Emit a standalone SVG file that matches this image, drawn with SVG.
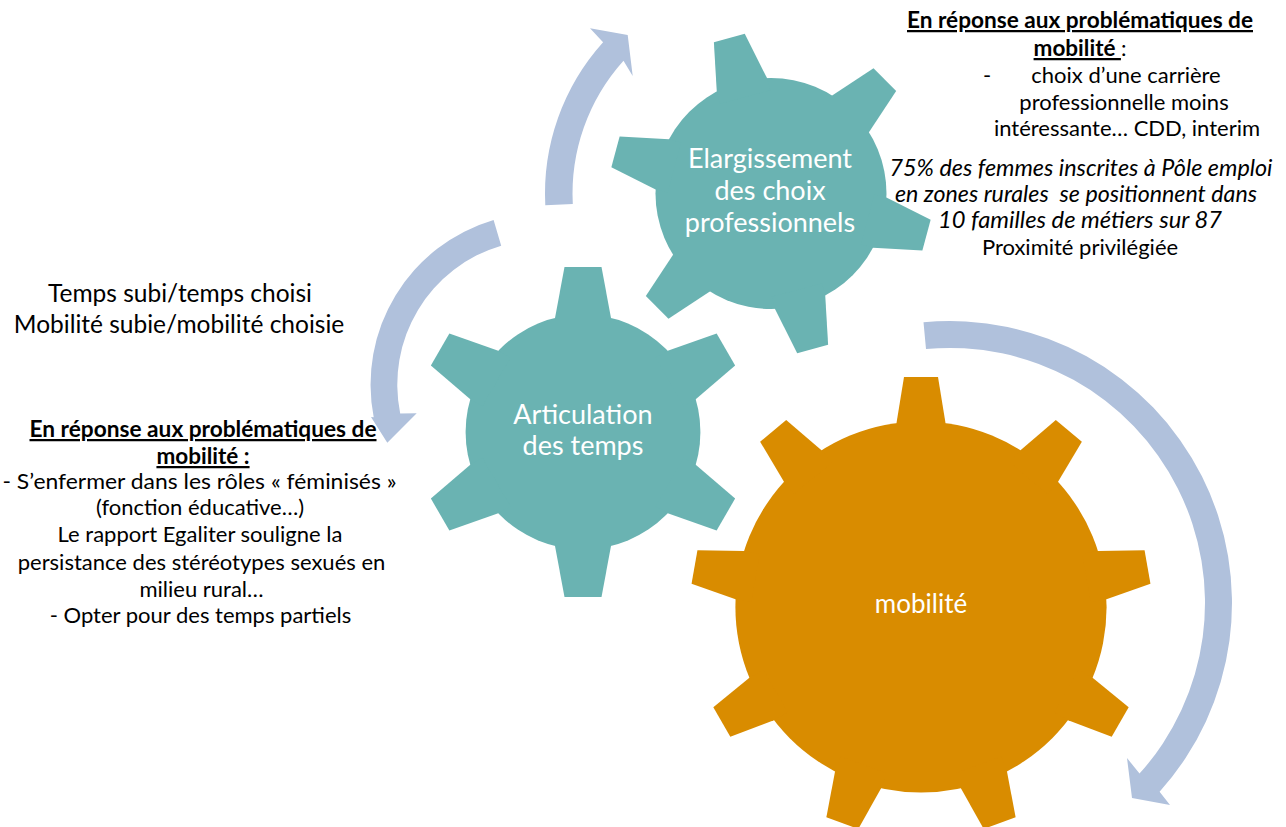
<svg xmlns="http://www.w3.org/2000/svg" xmlns:xlink="http://www.w3.org/1999/xlink" width="1286" height="827" viewBox="0 0 1286 827">
  <style>
    .teal { fill: #6ab3b2; }
    .orange { fill: #d98c00; }
    .arrow { fill: #b0c1dc; }
    .gear-label { font-family: Lato, "Noto Sans", sans-serif; fill: #ffffff; text-anchor: middle; font-size: 27px; }
    .note { font-family: Lato, "Noto Sans", sans-serif; fill: #000000; font-size: 22px; text-anchor: middle; }
    .note-big { font-family: Lato, "Noto Sans", sans-serif; fill: #000000; font-size: 24.5px; text-anchor: middle; }
    .head { font-weight: bold; text-decoration: underline; font-size: 22.5px; }
    .it { font-style: italic; font-size: 23.5px; }
  </style>
  <defs>
    <!-- gear teeth, pointing up from the gear centre -->
    <path id="tooth9" d="M-24.5,-168 L-24.5,-184 L-17,-230 L17,-230 L24.5,-184 L24.5,-168 Z"/>
    <path id="tooth6a" d="M-28,-100 L-28,-114 L-18.5,-165 L18.5,-165 L28,-114 L28,-100 Z"/>
    <path id="tooth6b" d="M-26,-100 L-26,-112.5 L-16,-161 L16,-161 L26,-112.5 L26,-100 Z"/>
  </defs>

  <rect width="1286" height="827" fill="#ffffff"/>

  <!-- circular arrows -->
  <g id="connectors" class="arrow">
    <path id="arrow-up" d="M545.3,205.3 A226,226 0 0 1 603.1,42.3 L590,28.3 L627.7,35 L632.7,76 L623.5,60.7 A198.5,198.5 0 0 0 572.8,203.9 Z"/>
    <path id="arrow-left" d="M493.6,220 A171.5,171.5 0 0 0 373.7,417.2 L371,417 L387.3,442.7 L416.7,413.3 L400.2,413.4 A144.7,144.7 0 0 1 501.2,245.7 Z"/>
    <path id="arrow-right" d="M923.5,322.3 A282,282 0 0 1 1159.6,791.7 L1170,805 L1132,798 L1127,758 L1139.5,773.6 A255,255 0 0 0 926,349.1 Z"/>
  </g>

  <!-- gear: Elargissement des choix professionnels -->
  <g id="gear-elargissement">
    <g class="teal" transform="translate(771 193.5)">
      <circle r="115.5"/>
      <use xlink:href="#tooth6b" transform="rotate(-15)"/>
      <use xlink:href="#tooth6b" transform="rotate(45)"/>
      <use xlink:href="#tooth6b" transform="rotate(105)"/>
      <use xlink:href="#tooth6b" transform="rotate(165)"/>
      <use xlink:href="#tooth6b" transform="rotate(225)"/>
      <use xlink:href="#tooth6b" transform="rotate(285)"/>
    </g>
    <text class="gear-label" x="770" y="168">Elargissement</text>
    <text class="gear-label" x="770" y="200">des choix</text>
    <text class="gear-label" x="770" y="232">professionnels</text>
  </g>

  <!-- gear: Articulation des temps -->
  <g id="gear-articulation">
    <g class="teal" transform="translate(583 432)">
      <circle r="117.4"/>
      <use xlink:href="#tooth6a" transform="rotate(0)"/>
      <use xlink:href="#tooth6a" transform="rotate(60)"/>
      <use xlink:href="#tooth6a" transform="rotate(120)"/>
      <use xlink:href="#tooth6a" transform="rotate(180)"/>
      <use xlink:href="#tooth6a" transform="rotate(240)"/>
      <use xlink:href="#tooth6a" transform="rotate(300)"/>
    </g>
    <text class="gear-label" x="583" y="424">Articulation</text>
    <text class="gear-label" x="583" y="455">des temps</text>
  </g>

  <!-- gear: mobilité -->
  <g id="gear-mobilite">
    <g class="orange" transform="translate(921 607)">
      <circle r="185.6"/>
      <use xlink:href="#tooth9" transform="rotate(0)"/>
      <use xlink:href="#tooth9" transform="rotate(40)"/>
      <use xlink:href="#tooth9" transform="rotate(80)"/>
      <use xlink:href="#tooth9" transform="rotate(120)"/>
      <use xlink:href="#tooth9" transform="rotate(160)"/>
      <use xlink:href="#tooth9" transform="rotate(200)"/>
      <use xlink:href="#tooth9" transform="rotate(240)"/>
      <use xlink:href="#tooth9" transform="rotate(280)"/>
      <use xlink:href="#tooth9" transform="rotate(320)"/>
    </g>
    <text class="gear-label" x="921" y="613" style="font-size:26px">mobilité</text>
  </g>

  <!-- notes beside the upper gear -->
  <g id="notes-right">
    <text class="note head" x="1080" y="28" textLength="346" lengthAdjust="spacingAndGlyphs">En réponse aux problématiques de</text>
    <text class="note" x="1080" y="56"><tspan class="head">mobilité </tspan><tspan>:</tspan></text>
    <text class="note" x="983" y="83" style="text-anchor:start">-</text>
    <text class="note" x="1126" y="83">choix d’une carrière</text>
    <text class="note" x="1124" y="110">professionnelle moins</text>
    <text class="note" x="1127" y="136">intéressante… CDD, interim</text>
    <text class="note it" x="1081" y="176" textLength="383" lengthAdjust="spacingAndGlyphs">75% des femmes inscrites à Pôle emploi</text>
    <text class="note it" x="1076" y="202" textLength="362" lengthAdjust="spacingAndGlyphs" xml:space="preserve">en zones rurales  se positionnent dans</text>
    <text class="note it" x="1080" y="228" textLength="284" lengthAdjust="spacingAndGlyphs">10 familles de métiers sur 87</text>
    <text class="note" x="1080" y="255">Proximité privilégiée</text>
  </g>

  <!-- notes on the left -->
  <g id="notes-left-top">
    <text class="note-big" x="180" y="302">Temps subi/temps choisi</text>
    <text class="note-big" x="179" y="333">Mobilité subie/mobilité choisie</text>
  </g>
  <g id="notes-left">
    <text class="note head" x="203" y="437" textLength="347" lengthAdjust="spacingAndGlyphs">En réponse aux problématiques de</text>
    <text class="note head" x="203" y="464">mobilité :</text>
    <text class="note" x="199.5" y="489" textLength="394" lengthAdjust="spacingAndGlyphs">- S’enfermer dans les rôles « féminisés »</text>
    <text class="note" x="200" y="515">(fonction éducative…)</text>
    <text class="note" x="200" y="542">Le rapport Egaliter souligne la</text>
    <text class="note" x="201.5" y="570">persistance des stéréotypes sexués en</text>
    <text class="note" x="201.5" y="597">milieu rural…</text>
    <text class="note" x="200.5" y="623">- Opter pour des temps partiels</text>
  </g>
</svg>
